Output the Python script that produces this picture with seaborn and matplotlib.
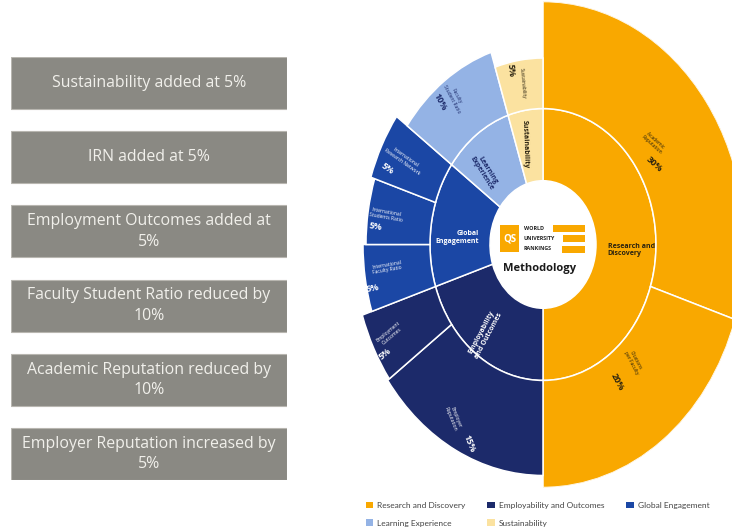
import numpy as np
import matplotlib.pyplot as plt
import seaborn as sns
from matplotlib.patches import Patch, Rectangle

# Cambios de metodología (cajas de la izquierda)
changes = [
    "Sustainability added at 5%",
    "IRN added at 5%",
    "Employment Outcomes added at\n5%",
    "Faculty Student Ratio reduced by\n10%",
    "Academic Reputation reduced by\n10%",
    "Employer Reputation increased by\n5%",
]

# Anillo interior: lentes
lenses = ["Research and Discovery", "Employability and Outcomes",
          "Global Engagement", "Learning Experience", "Sustainability"]
lens_labels = ["Research and\nDiscovery", "Employability\nand Outcomes",
               "Global\nEngagement", "Learning\nExperience", "Sustainability"]
lens_weights = [50, 20, 15, 10, 5]

# Anillo exterior: indicadores
indicators = ["Academic\nReputation", "Citations\nper Faculty", "Employer\nReputation",
              "Employment\nOutcomes", "International\nFaculty Ratio",
              "International\nStudents Ratio", "International\nResearch Network",
              "Faculty\nStudent Ratio", "Sustainability"]
indicator_weights = [30, 20, 15, 5, 5, 5, 5, 10, 5]
indicator_lens = [0, 0, 1, 1, 2, 2, 2, 3, 4]

# Estilo
sns.set_style("white")
plt.rcParams['font.family'] = ['Open Sans', 'DejaVu Sans']

lens_colors = ['#F9A800', '#1C2A6A', '#1B47A5', '#94B3E5', '#FBE2A0']
lens_text = ['#2a2210', 'white', 'white', '#1C2A6A', '#2a2210']

W, H = 732, 531
fig = plt.figure(figsize=(W / 100, H / 100), dpi=100)


def fx(x):
    return x / W


def fy(y):
    return 1 - y / H


# ---------- cajas de la izquierda ----------
bh = 0.703
axl = fig.add_axes([fx(11), fy(480), fx(287) - fx(11), fy(57) - fy(480)])
sns.barplot(x=[1] * len(changes), y=list(range(len(changes))), orient='h',
            color='#8A8983', width=bh, ax=axl, edgecolor='#B8B6B0', linewidth=0.8,
            saturation=1)
axl.set_xlim(0, 1)
axl.set_ylim(len(changes) - 1 + bh / 2, -bh / 2)
axl.axis('off')
for i, txt in enumerate(changes):
    axl.text(0.5, i, txt, ha='center', va='center', color='#F1F0EB',
             fontsize=11.4, linespacing=1.35)

# ---------- sunburst ----------
cx, cy = 543, 244.5
rx, ry = 202, 243
ax = fig.add_axes([fx(cx - rx), fy(cy + ry), 2 * rx / W, 2 * ry / H], projection='polar')
ax.set_aspect('auto')
ax.set_theta_zero_location('N')
ax.set_theta_direction(-1)
ax.set_ylim(0, rx)
ax.axis('off')

r_hole, r_mid = 53, 113
outer_radius = [202, 202, 192, 190, 180, 177, 181, 168, 155]

deg = 3.6
lens_start = np.cumsum([0] + lens_weights[:-1]) * deg
ax.bar(np.deg2rad(lens_start), r_mid - r_hole, width=np.deg2rad(np.array(lens_weights) * deg),
       bottom=r_hole, align='edge', color=lens_colors, edgecolor='white', linewidth=1.1)

ind_start = np.cumsum([0] + indicator_weights[:-1]) * deg
ind_colors = [lens_colors[k] for k in indicator_lens]
ax.bar(np.deg2rad(ind_start), np.array(outer_radius) - r_mid,
       width=np.deg2rad(np.array(indicator_weights) * deg), bottom=r_mid,
       align='edge', color=ind_colors, edgecolor='white', linewidth=1.1)

# etiquetas del anillo interior (theta, r, rotación)
lens_pos = [(94, 65, 0), (218, 94, 62), (274, 86, 0), (316, 84, -58), (348, 85, -88)]
for i, (t, r, rot) in enumerate(lens_pos):
    ha = 'left' if i == 0 else 'center'
    ax.text(np.deg2rad(t), r, lens_labels[i], ha=ha, va='center', rotation=rot,
            rotation_mode='anchor', fontsize=5, fontweight='bold', color=lens_text[i],
            multialignment='right' if i == 2 else ('left' if i == 0 else 'center'),
            linespacing=1.1)

# etiquetas del anillo exterior: (theta nombre, r nombre, theta %, r %, rotación)
ind_pos = [(52.5, 139, 59, 130, -42), (137, 133, 147, 136, -62), (212, 170, 204, 181, -68),
           (244, 170, 240, 182, 40), (263, 157, 258, 174, 10), (279, 159, 275, 168, -10),
           (297, 156, 292, 168, -35), (324, 151, 319, 157, -62), (351.5, 136, 347.5, 148, -85)]
for i, (tn, rn, tp, rp, rot) in enumerate(ind_pos):
    col = lens_text[indicator_lens[i]]
    ax.text(np.deg2rad(tn), rn, indicators[i], ha='center', va='center', rotation=rot,
            rotation_mode='anchor', fontsize=3.6, color=col, linespacing=1.1)
    ax.text(np.deg2rad(tp), rp, f"{indicator_weights[i]}%", ha='center', va='center',
            rotation=rot, rotation_mode='anchor', fontsize=6.5, fontweight='bold', color=col)

# logo central
fig.add_artist(Rectangle((fx(500), fy(252)), fx(519) - fx(500), fy(225) - fy(252),
                         transform=fig.transFigure, color=lens_colors[0], lw=0))
fig.text(fx(509.5), fy(239), "QS", ha='center', va='center', color='white',
         fontsize=7, fontweight='bold')
for word, y, x0 in [("WORLD", 228, 553), ("UNIVERSITY", 238.5, 563), ("RANKINGS", 249, 562)]:
    fig.text(fx(524), fy(y), word, ha='left', va='center', fontsize=3.9,
             fontweight='bold', color='#222222')
    fig.add_artist(Rectangle((fx(x0), fy(y + 3.5)), fx(585) - fx(x0), fy(y - 3.5) - fy(y + 3.5),
                             transform=fig.transFigure, color=lens_colors[0], lw=0))
fig.text(fx(540), fy(268), "Methodology", ha='center', va='center', fontsize=8,
         fontweight='bold', color='#1a1a1a')

# leyenda
order = [0, 3, 1, 4, 2]
handles = [Patch(facecolor=lens_colors[k], edgecolor='none') for k in order]
leg = fig.legend(handles, [lenses[k] for k in order], ncol=3, loc='upper left',
                 bbox_to_anchor=(fx(358), fy(494)), frameon=False,
                 handlelength=0.9, handleheight=0.9, handletextpad=0.5,
                 columnspacing=2.6, labelspacing=1.25, labelcolor='#444444',
                 prop={'family': ['Lato', 'DejaVu Sans'], 'size': 6})

fig.savefig('out.png', dpi=100, facecolor='white')
